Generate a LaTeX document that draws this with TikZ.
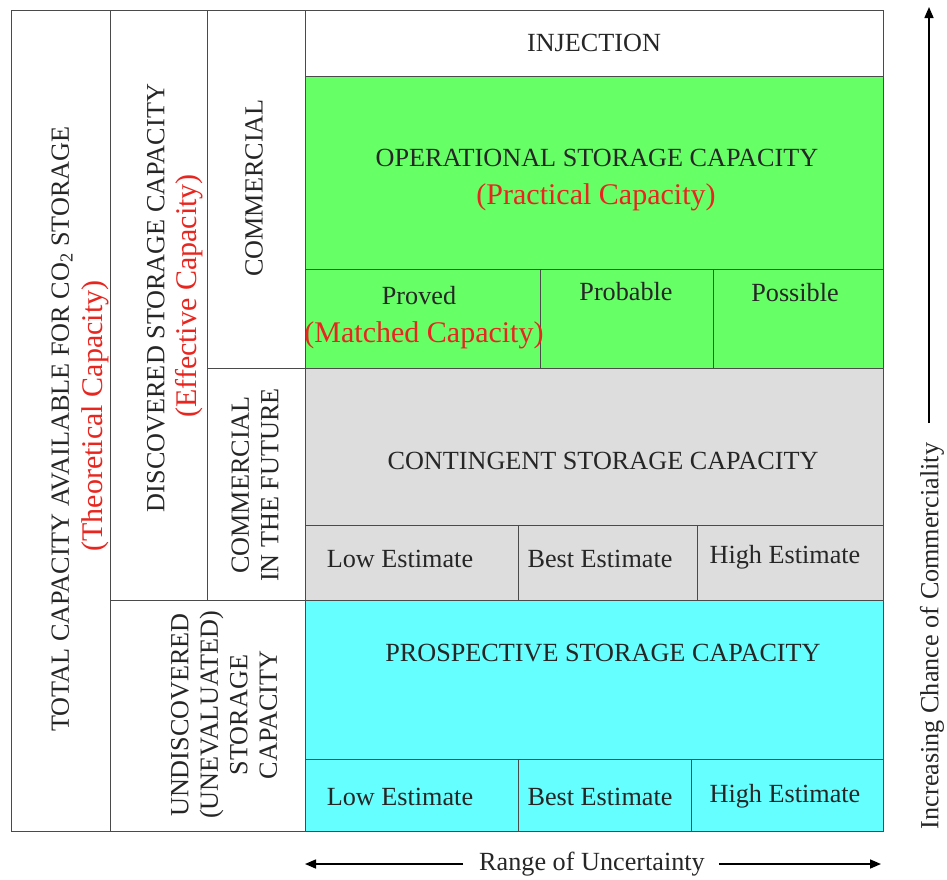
\documentclass[tikz,border=0pt]{standalone}
\usepackage{fontspec}
\setmainfont{Liberation Serif}
\usetikzlibrary{arrows.meta}
\definecolor{opgreen}{HTML}{66FF66}
\definecolor{contgrey}{HTML}{DDDDDD}
\definecolor{prospcyan}{HTML}{66FFFF}
\definecolor{redtxt}{HTML}{E8251F}
\definecolor{linecol}{HTML}{4A4A4A}
\tikzset{
  cell/.style={draw=linecol, line width=0.9pt, inner sep=0pt, outer sep=0pt, anchor=north west},
  txt/.style={inner sep=0pt, font=\fontsize{26.2}{29.5}\selectfont, text=black!85},
  redt/.style={inner sep=0pt, font=\fontsize{30}{33}\selectfont, text=redtxt},
  vtxt/.style={txt, rotate=90, align=center},
  vred/.style={redt, rotate=90},
  axisarrow/.style={line width=1.6pt, -{Triangle[length=11pt,width=9pt]}}
}
\newcommand{\cellbox}[6]{% name, x1, y1, x2, y2, fill
  \node[cell, fill=#6, minimum width={(#4-#2)*1pt}, minimum height={(#5-#3)*1pt}] (#1) at (#2,#3) {};}
\begin{document}
\begin{tikzpicture}[x=1pt,y=-1pt]
\useasboundingbox (0,0) rectangle (947,879);
% left columns
\cellbox{total}{11}{10}{110}{831}{white}
\cellbox{disc}{110}{10}{207}{600}{white}
\cellbox{comm}{207}{10}{305}{368}{white}
\cellbox{commf}{207}{368}{305}{600}{white}
\cellbox{undisc}{110}{600}{305}{831}{white}
% right blocks
\cellbox{inj}{305}{10}{883}{76}{white}
\cellbox{oper}{305}{76}{883}{269}{opgreen}
\cellbox{proved}{305}{269}{540}{368}{opgreen}
\cellbox{probable}{540}{269}{713}{368}{opgreen}
\cellbox{possible}{713}{269}{883}{368}{opgreen}
\cellbox{cont}{305}{368}{883}{525}{contgrey}
\cellbox{clow}{305}{525}{518}{600}{contgrey}
\cellbox{cbest}{518}{525}{697}{600}{contgrey}
\cellbox{chigh}{697}{525}{883}{600}{contgrey}
\cellbox{prosp}{305}{600}{883}{759}{prospcyan}
\cellbox{plow}{305}{759}{518}{831}{prospcyan}
\cellbox{pbest}{518}{759}{691}{831}{prospcyan}
\cellbox{phigh}{691}{759}{883}{831}{prospcyan}
% texts right
\node[txt] (tinj) at (594,43) {INJECTION};
\node[txt] (toper) at (597,158) {OPERATIONAL STORAGE CAPACITY};
\node[redt] (tprac) at (596,197) {(Practical Capacity)};
\node[txt, anchor=base] (tproved) at (419,304) {Proved};
\node[redt, anchor=base] (tmatch) at (424,342) {(Matched Capacity)};
\node[txt, anchor=base] (tprob) at (626,300) {Probable};
\node[txt, anchor=base] (tposs) at (795,301) {Possible};
\node[txt] (tcont) at (603,461) {CONTINGENT STORAGE CAPACITY};
\node[txt, anchor=base] (tcl) at (400,567) {Low Estimate};
\node[txt, anchor=base] (tcb) at (600,567) {Best Estimate};
\node[txt, anchor=base] (tch) at (785,563) {High Estimate};
\node[txt] (tprosp) at (603,653) {PROSPECTIVE STORAGE CAPACITY};
\node[txt, anchor=base] (tpl) at (400,805) {Low Estimate};
\node[txt, anchor=base] (tpb) at (600,805) {Best Estimate};
\node[txt, anchor=base] (tph) at (785,802) {High Estimate};
% texts left (vertical)
\node[vtxt] (ttotal) at (62,429) {TOTAL CAPACITY AVAILABLE FOR CO\textsubscript{2} STORAGE};
\node[vred] (ttheo) at (95,416) {(Theoretical Capacity)};
\node[vtxt] (tdisc) at (156,298) {DISCOVERED STORAGE CAPACITY};
\node[vred] (teff) at (189,296) {(Effective Capacity)};
\node[vtxt] (tcomm) at (254,188) {COMMERCIAL};
\node[vtxt] (tcommf) at (255,485) {COMMERCIAL\\IN THE FUTURE};
\node[vtxt] (tundisc) at (224,715) {UNDISCOVERED\\(UNEVALUATED)\\STORAGE\\CAPACITY};
% range of uncertainty
\node[txt] (range) at (592,864) {Range of Uncertainty};
\coordinate (rl) at (305,864);
\coordinate (rr) at (881,864);
\draw[axisarrow] (range.west) ++(-16,0) -- (rl);
\draw[axisarrow] (range.east) ++(14,0) -- (rr);
% increasing chance
\node[txt, rotate=90] (incr) at (932,636) {Increasing Chance of Commerciality};
\coordinate (itop) at (929,7);
\draw[axisarrow] (929,423) -- (itop);
\end{tikzpicture}
\end{document}
